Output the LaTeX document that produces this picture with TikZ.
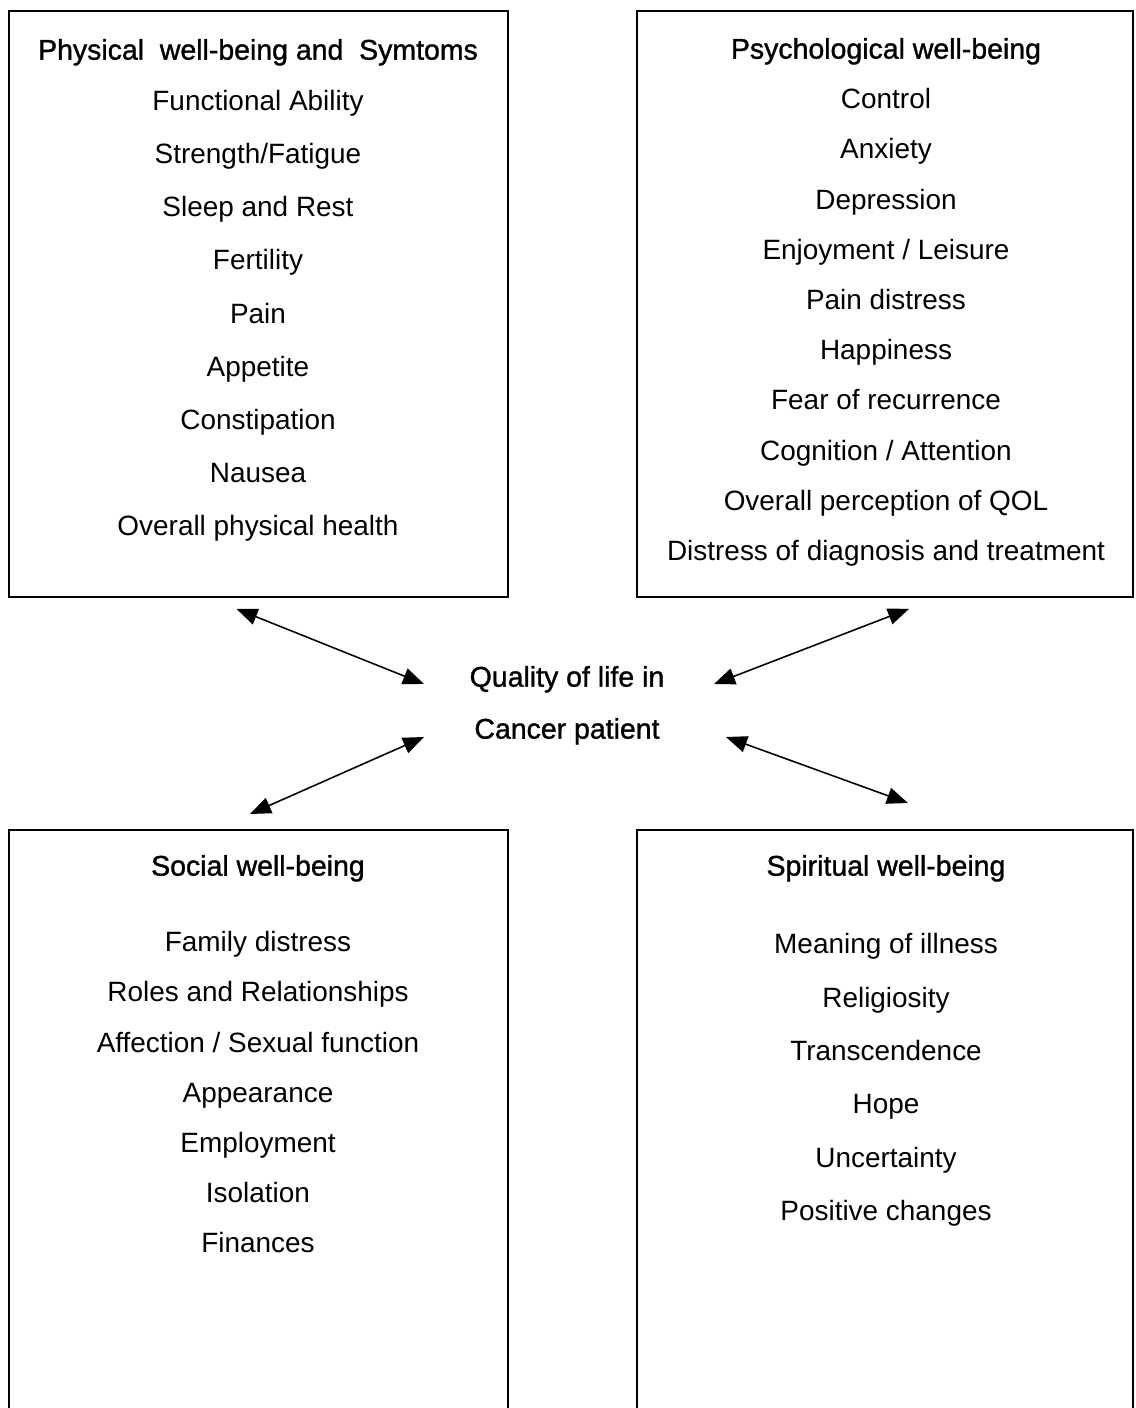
\documentclass[tikz,border=0pt]{standalone}
\usepackage{fontspec}
\setmainfont{Liberation Sans}
\newfontfamily\headfont[FakeBold=1.2]{Liberation Sans}
\usepackage{tikz}
\usetikzlibrary{arrows.meta}

\tikzset{
  panel/.style={draw, line width=1.1pt, anchor=north west, inner sep=0pt, outer sep=0pt, minimum height=12cm},
  head/.style={anchor=mid, yshift=-0.1cm, font=\headfont\fontsize{16.2}{19}\selectfont},
  entry/.style={anchor=mid, yshift=-0.1cm, font=\fontsize{15.9}{19}\selectfont},
  link/.style={{Triangle[length=0.42cm,width=0.33cm]}-{Triangle[length=0.42cm,width=0.33cm]}, line width=0.9pt}
}

\begin{document}
\begin{tikzpicture}[x=0.02cm, y=-0.02cm]%
\clip (0,0) rectangle (1135,1408);%
% the four boxes
\node[panel, minimum width=9.98cm, minimum height=11.72cm] (phys) at (9,11) {};%
\node[panel, minimum width=9.92cm, minimum height=11.72cm] (psych) at (637,11) {};%
\node[panel, minimum width=9.98cm] (social) at (9,830) {};%
\node[panel, minimum width=9.92cm] (spirit) at (637,830) {};%
% headings
\node[head] (phys-head) at (258,50) {Physical\ \ well-being and\ \ Symtoms};%
\node[head] (psych-head) at (886,49) {Psychological well-being};%
\node[head] (social-head) at (258,866) {Social well-being};%
\node[head] (spirit-head) at (886,866) {Spiritual well-being};%
% items
\foreach \txt [count=\i] in {Functional Ability, Strength/Fatigue, Sleep and Rest, Fertility, Pain, Appetite, Constipation, Nausea, Overall physical health}
  \node[entry] (phys-\i) at (258, {47.9+53.1*\i}) {\txt};%
\foreach \txt [count=\i] in {Control, Anxiety, Depression, Enjoyment / Leisure, Pain distress, Happiness, Fear of recurrence, Cognition / Attention, Overall perception of QOL, Distress of diagnosis and treatment}
  \node[entry] (psych-\i) at (886, {48.8+50.2*\i}) {\txt};%
\foreach \txt [count=\i] in {Family distress, Roles and Relationships, Affection / Sexual function, Appearance, Employment, Isolation, Finances}
  \node[entry] (social-\i) at (258, {891.8+50.2*\i}) {\txt};%
\foreach \txt [count=\i] in {Meaning of illness, Religiosity, Transcendence, Hope, Uncertainty, Positive changes}
  \node[entry] (spirit-\i) at (886, {890.6+53.4*\i}) {\txt};%
% centre
\node[head] (qol-1) at (567,677) {Quality of life in};%
\node[head] (qol-2) at (567,729) {Cancer patient};%
\coordinate (qol) at (567,703);%
% arrows
\draw[link] ([shift={(-22,12)}]phys.south) -- ([shift={(-143,-19)}]qol);%
\draw[link] ([shift={(24,12)}]psych.south) -- ([shift={(147,-19)}]qol);%
\draw[link] ([shift={(-143,34)}]qol) -- ([shift={(-8.5,-16)}]social.north);%
\draw[link] ([shift={(159,34)}]qol) -- ([shift={(23,-27)}]spirit.north);%
\end{tikzpicture}
\end{document}
